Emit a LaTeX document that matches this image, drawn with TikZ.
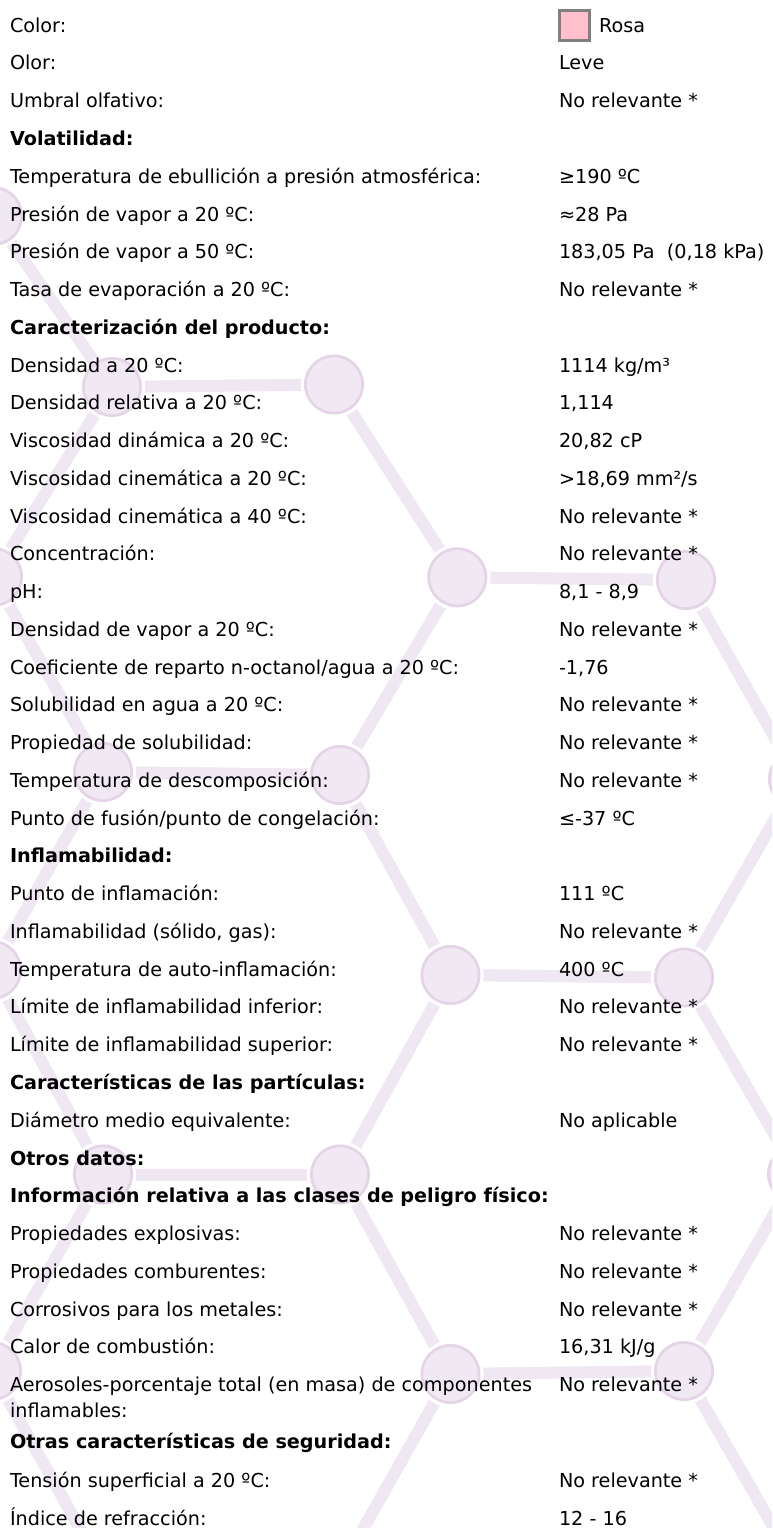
\documentclass[tikz,border=0pt]{standalone}
\usepackage{fontspec}
\setmainfont{DejaVu Sans}
\definecolor{bondc}{HTML}{EFE7F2}
\definecolor{ringc}{HTML}{E5D4E7}
\definecolor{atomc}{HTML}{F0E8F3}
\definecolor{swpink}{HTML}{FFC0CB}
\definecolor{swgray}{HTML}{808080}
\newcommand{\txtfont}{\fontsize{19.2}{23}\selectfont}
\newcommand{\drow}[3]{%
  \node[lab] (l#1) at (9.8,{32.2+(#1-1)*37.76}) {#2};
  \node[val] (v#1) at (558.8,{32.2+(#1-1)*37.76}) {#3};}
\newcommand{\hrow}[2]{%
  \node[hd] (l#1) at (9.8,{32.2+(#1-1)*37.76}) {#2};}
\begin{document}
\begin{tikzpicture}[x=1pt,y=-1pt,
  bond/.style={draw=bondc, line width=12pt},
  atom/.style={circle, draw=ringc, fill=atomc, line width=2.7pt,
    minimum size=57.3pt, inner sep=0pt,
    preaction={draw=white, line width=9pt}},
  lab/.style={anchor=base west, inner sep=0pt, font=\txtfont, text=black},
  val/.style={anchor=base west, inner sep=0pt, font=\txtfont, text=black},
  hd/.style={anchor=base west, inner sep=0pt, font=\txtfont\bfseries, text=black}]
\useasboundingbox (0,0) rectangle (772,1528);
\fill[white] (0,0) rectangle (772,1528);
\begin{scope}
\clip (0,0) rectangle (772,1528);
% lattice vertices
\coordinate (C) at (-7,216);
\coordinate (B) at (112,387);
\coordinate (A) at (334,384.5);
\coordinate (G) at (-7,577);
\coordinate (D) at (457.3,577.3);
\coordinate (E) at (686,580);
\coordinate (H) at (103,772);
\coordinate (F) at (340,775);
\coordinate (K) at (798,779);
\coordinate (O) at (-8,970);
\coordinate (I) at (450.5,975);
\coordinate (J) at (684,977.5);
\coordinate (N) at (103,1174.5);
\coordinate (M) at (340,1174.5);
\coordinate (L) at (797,1174);
\coordinate (R) at (-8,1371);
\coordinate (P) at (450.5,1374);
\coordinate (Q) at (684,1371);
\coordinate (S) at (103,1570);
\coordinate (T) at (340,1570);
\coordinate (U) at (798,1570);
% bonds
\foreach \a/\b in {C/B,B/A,A/D,B/G,D/E,D/F,E/K,G/H,H/F,F/I,H/O,I/J,J/K,J/L,I/M,O/N,N/M,M/P,P/Q,Q/L,Q/U,N/R,R/S,P/T}
  \draw[bond] (\a) -- (\b);
% atoms
\foreach \v in {C,B,A,G,D,E,H,F,K,O,I,J,N,M,L,R,P,Q}
  \node[atom] (at\v) at (\v) {};
\end{scope}
% swatch
\node[draw=swgray, fill=swpink, line width=2.7pt, minimum size=29.7pt, inner sep=0pt] (sw) at (574.5,25.5) {};
% rows
\node[lab] (l1) at (9.8,32.2) {Color:};
\node[val] (v1) at (599,32.2) {Rosa};
\drow{2}{Olor:}{Leve}
\drow{3}{Umbral olfativo:}{No relevante *}
\hrow{4}{Volatilidad:}
\drow{5}{Temperatura de ebullición a presión atmosférica:}{≥190 ºC}
\drow{6}{Presión de vapor a 20 ºC:}{≈28 Pa}
\drow{7}{Presión de vapor a 50 ºC:}{183,05 Pa\ \ (0,18 kPa)}
\drow{8}{Tasa de evaporación a 20 ºC:}{No relevante *}
\hrow{9}{Caracterización del producto:}
\drow{10}{Densidad a 20 ºC:}{1114 kg/m³}
\drow{11}{Densidad relativa a 20 ºC:}{1,114}
\drow{12}{Viscosidad dinámica a 20 ºC:}{20,82 cP}
\drow{13}{Viscosidad cinemática a 20 ºC:}{>18,69 mm²/s}
\drow{14}{Viscosidad cinemática a 40 ºC:}{No relevante *}
\drow{15}{Concentración:}{No relevante *}
\drow{16}{pH:}{8,1 - 8,9}
\drow{17}{Densidad de vapor a 20 ºC:}{No relevante *}
\drow{18}{Coeficiente de reparto n-octanol/agua a 20 ºC:}{-1,76}
\drow{19}{Solubilidad en agua a 20 ºC:}{No relevante *}
\drow{20}{Propiedad de solubilidad:}{No relevante *}
\drow{21}{Temperatura de descomposición:}{No relevante *}
\drow{22}{Punto de fusión/punto de congelación:}{≤-37 ºC}
\hrow{23}{Inflamabilidad:}
\drow{24}{Punto de inflamación:}{111 ºC}
\drow{25}{Inflamabilidad (sólido, gas):}{No relevante *}
\drow{26}{Temperatura de auto-inflamación:}{400 ºC}
\drow{27}{Límite de inflamabilidad inferior:}{No relevante *}
\drow{28}{Límite de inflamabilidad superior:}{No relevante *}
\hrow{29}{Características de las partículas:}
\drow{30}{Diámetro medio equivalente:}{No aplicable}
\hrow{31}{Otros datos:}
\hrow{32}{Información relativa a las clases de peligro físico:}
\drow{33}{Propiedades explosivas:}{No relevante *}
\drow{34}{Propiedades comburentes:}{No relevante *}
\drow{35}{Corrosivos para los metales:}{No relevante *}
\drow{36}{Calor de combustión:}{16,31 kJ/g}
\drow{37}{Aerosoles-porcentaje total (en masa) de componentes}{No relevante *}
\node[lab] (l37b) at (9.8,1417.6) {inflamables:};
\node[hd] (l38) at (9.8,1448.9) {Otras características de seguridad:};
\node[lab] (l39) at (9.8,1487.3) {Tensión superficial a 20 ºC:};
\node[val] (v39) at (558.8,1487.3) {No relevante *};
\node[lab] (l40) at (9.8,1525.2) {Índice de refracción:};
\node[val] (v40) at (558.8,1525.2) {12 - 16};
\end{tikzpicture}
\end{document}
